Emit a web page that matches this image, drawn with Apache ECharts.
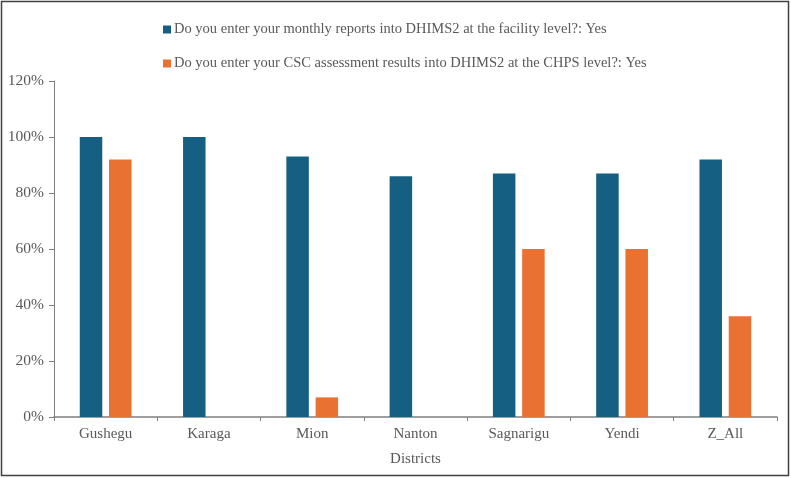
<!DOCTYPE html>
<html>
<head>
<meta charset="utf-8">
<script src="https://cdn.jsdelivr.net/npm/echarts@6/dist/echarts.min.js"></script>
<style>
html,body{margin:0;padding:0;background:#fff;}
#chart{width:791px;height:478px;}
</style>
</head>
<body>
<div id="chart"></div>
<script>
const categories = ['Gushegu', 'Karaga', 'Mion', 'Nanton', 'Sagnarigu', 'Yendi', 'Z_All'];
const seriesNames = [
  'Do you enter your monthly reports into DHIMS2 at the facility level?: Yes',
  'Do you enter your CSC assessment results into DHIMS2 at the CHPS level?: Yes'
];
const monthlyReports = [100, 100, 93, 86, 87, 87, 92];
const cscResults = [92, 0, 7, 0, 60, 60, 36];
const yTicks = [0, 20, 40, 60, 80, 100, 120];

const font = 'Liberation Serif, Times New Roman, serif';
const textColor = '#595959';
const chart = echarts.init(document.getElementById('chart'), null, {renderer: 'canvas'});
chart.setOption({
  animation: false,
  backgroundColor: '#fff',
  textStyle: {fontFamily: font},
  graphic: [{
    type: 'rect',
    shape: {x: 1.5, y: 1.5, width: 787, height: 474},
    style: {fill: 'none', stroke: '#404040', lineWidth: 1.5},
    silent: true
  }],
  legend: {
    orient: 'vertical',
    left: 158,
    top: 17,
    itemWidth: 8,
    itemHeight: 8,
    itemGap: 19,
    icon: 'rect',
    textStyle: {fontFamily: font, fontSize: 14.5, color: textColor, padding: [0, 0, 0, -2]},
    data: seriesNames
  },
  grid: {left: 54, right: 14, top: 81, bottom: 61, containLabel: false},
  xAxis: {
    type: 'category',
    data: categories,
    name: 'Districts',
    nameLocation: 'middle',
    nameGap: 35,
    nameTextStyle: {fontFamily: font, fontSize: 15, color: textColor},
    axisLine: {lineStyle: {color: '#7f7f7f', width: 1.5}},
    axisTick: {show: true, length: 4, lineStyle: {color: '#7f7f7f'}},
    axisLabel: {fontFamily: font, fontSize: 15, color: textColor, margin: 10}
  },
  yAxis: {
    type: 'value',
    min: 0,
    max: 120,
    interval: 20,
    axisLine: {show: true, lineStyle: {color: '#7f7f7f', width: 1}},
    axisTick: {show: true, length: 5, inside: false, lineStyle: {color: '#7f7f7f'}},
    splitLine: {show: false},
    axisLabel: {
      fontFamily: font, fontSize: 15.5, color: textColor, margin: 10,
      formatter: v => yTicks.includes(v) ? v + '%' : ''
    }
  },
  series: [
    {
      name: seriesNames[0],
      type: 'bar',
      data: monthlyReports,
      barWidth: 22.5,
      barGap: '30%',
      itemStyle: {color: '#156082'}
    },
    {
      name: seriesNames[1],
      type: 'bar',
      data: cscResults,
      barWidth: 22.5,
      barGap: '30%',
      itemStyle: {color: '#E97132'}
    }
  ]
});
</script>
</body>
</html>
